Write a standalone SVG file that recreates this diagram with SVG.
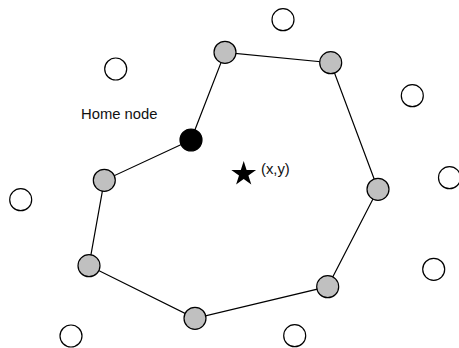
<svg xmlns="http://www.w3.org/2000/svg" width="459" height="348" viewBox="0 0 459 348">
  <style>
    .node { stroke: #000; stroke-width: 1.2; }
    .free { fill: #fff; }
    .member { fill: #c0c0c0; }
    .home { fill: #000; }
    .edge { stroke: #000; stroke-width: 1.2; fill: none; }
    .label { font-family: "Liberation Sans", Arial, sans-serif; font-size: 14.8px; fill: #111; }
  </style>
  <rect width="459" height="348" fill="#fff"/>

  <!-- ring connectors -->
  <g id="connectors">
    <polyline class="edge" points="191,140 225,52.3 330.7,62.7 378,189.3 327.7,286.7 195,318.3 89,265.7 104.3,180.3 191,140"/>
  </g>

  <!-- nodes outside the ring -->
  <g id="free-nodes">
    <circle id="f1" class="node free" cx="283" cy="19.7" r="11"/>
    <circle id="f2" class="node free" cx="115.7" cy="69" r="11"/>
    <circle id="f3" class="node free" cx="412.3" cy="95.7" r="11"/>
    <circle id="f4" class="node free" cx="449.5" cy="177.7" r="11"/>
    <circle id="f5" class="node free" cx="20.7" cy="199.7" r="11"/>
    <circle id="f6" class="node free" cx="433.7" cy="269.3" r="11"/>
    <circle id="f7" class="node free" cx="71" cy="336" r="11"/>
    <circle id="f8" class="node free" cx="294.7" cy="335.7" r="11"/>
  </g>

  <!-- ring members -->
  <g id="ring-nodes">
    <circle id="r1" class="node member" cx="225" cy="52.3" r="11"/>
    <circle id="r2" class="node member" cx="330.7" cy="62.7" r="11"/>
    <circle id="r3" class="node member" cx="378" cy="189.3" r="11"/>
    <circle id="r4" class="node member" cx="327.7" cy="286.7" r="11"/>
    <circle id="r5" class="node member" cx="195" cy="318.3" r="11"/>
    <circle id="r6" class="node member" cx="89" cy="265.7" r="11"/>
    <circle id="r7" class="node member" cx="104.3" cy="180.3" r="11"/>
  </g>

  <g id="home-node">
    <circle class="node home" cx="191" cy="140" r="11"/>
    <text class="label" x="81" y="119">Home node</text>
  </g>

  <g id="target">
    <polygon fill="#000" points="243.7,161 246.6,170 256.1,170 248.4,175.6 251.3,184.6 243.7,179 236.1,184.6 239,175.6 231.3,170 240.8,170"/>
    <text class="label" x="261" y="173.5">(x,y)</text>
  </g>
</svg>
